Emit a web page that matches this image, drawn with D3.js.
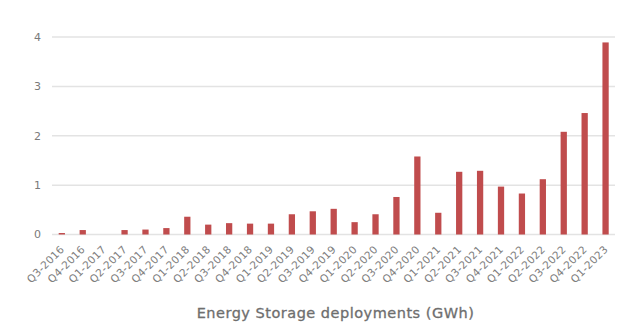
<!DOCTYPE html>
<html>
<head>
<meta charset="utf-8">
<script src="https://cdn.jsdelivr.net/npm/d3@7/dist/d3.min.js"></script>
<style>
  html, body { margin: 0; padding: 0; background: #fff; }
  svg { display: block; }
  text { font-family: "DejaVu Sans", sans-serif; }
</style>
</head>
<body>
<svg id="chart" width="640" height="328"></svg>
<script>
// Quarterly energy storage deployments, GWh
const quarters = [
  "Q3-2016", "Q4-2016", "Q1-2017", "Q2-2017", "Q3-2017", "Q4-2017",
  "Q1-2018", "Q2-2018", "Q3-2018", "Q4-2018", "Q1-2019", "Q2-2019",
  "Q3-2019", "Q4-2019", "Q1-2020", "Q2-2020", "Q3-2020", "Q4-2020",
  "Q1-2021", "Q2-2021", "Q3-2021", "Q4-2021", "Q1-2022", "Q2-2022",
  "Q3-2022", "Q4-2022", "Q1-2023"
];
const deployments = [
  0.03, 0.09, 0.00, 0.09, 0.10, 0.13,
  0.36, 0.20, 0.23, 0.22, 0.22, 0.41,
  0.47, 0.52, 0.25, 0.41, 0.76, 1.58,
  0.44, 1.27, 1.29, 0.97, 0.83, 1.12,
  2.08, 2.46, 3.89
];
const yTicks = [0, 1, 2, 3, 4];
const title = "Energy Storage deployments (GWh)";

const svg = d3.select("#chart");

const x = d3.scaleBand()
  .domain(quarters)
  .range([52, 615.4])
  .paddingInner(0.7)
  .paddingOuter(0.32);

const y = d3.scaleLinear()
  .domain([0, 4])
  .range([234.5, 37]);

// horizontal gridlines
svg.append("g")
  .selectAll("line")
  .data(yTicks)
  .join("line")
  .attr("x1", 52)
  .attr("x2", 615)
  .attr("y1", d => y(d))
  .attr("y2", d => y(d))
  .attr("stroke", "#e3e3e3")
  .attr("stroke-width", 1.5);

// y tick labels
svg.append("g")
  .selectAll("text")
  .data(yTicks)
  .join("text")
  .attr("x", 41)
  .attr("y", d => y(d))
  .attr("dy", "0.35em")
  .attr("text-anchor", "end")
  .attr("font-size", 11)
  .attr("fill", "#7a7a7a")
  .text(d => d);

// bars
svg.append("g")
  .selectAll("rect")
  .data(quarters)
  .join("rect")
  .attr("x", d => x(d))
  .attr("width", x.bandwidth())
  .attr("y", (d, i) => y(deployments[i]))
  .attr("height", (d, i) => y(0) - y(deployments[i]))
  .attr("fill", "#c04c4d");

// rotated quarter labels
svg.append("g")
  .selectAll("text")
  .data(quarters)
  .join("text")
  .attr("transform", d => `translate(${x(d) + x.bandwidth() / 2 + 3},250) rotate(-45)`)
  .attr("text-anchor", "end")
  .attr("font-size", 10.5)
  .attr("letter-spacing", 0.3)
  .attr("fill", "#7d7d7d")
  .text(d => d);

// axis title
svg.append("text")
  .attr("x", 335.5)
  .attr("y", 318)
  .attr("text-anchor", "middle")
  .attr("font-size", 14.5)
  .attr("letter-spacing", 0.5)
  .attr("fill", "#6e6e6e")
  .attr("stroke", "#6e6e6e")
  .attr("stroke-width", 0.3)
  .text(title);
</script>
</body>
</html>
